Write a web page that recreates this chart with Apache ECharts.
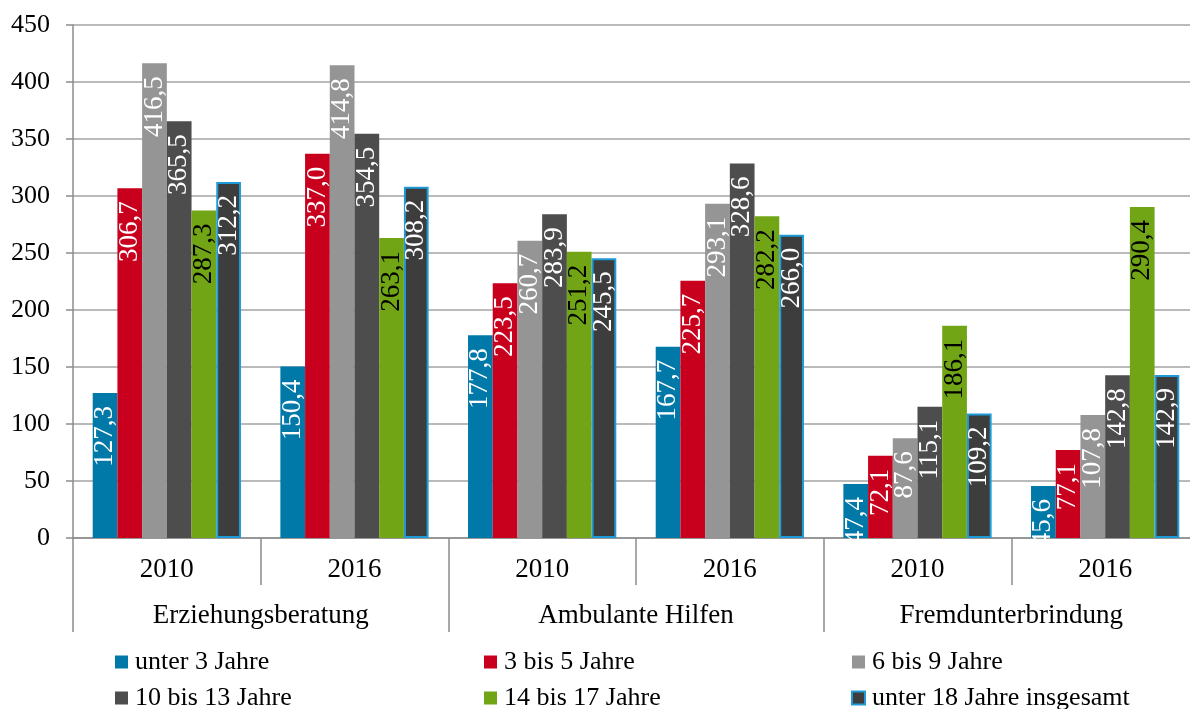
<!DOCTYPE html>
<html><head><meta charset="utf-8">
<script src="https://cdn.jsdelivr.net/npm/echarts@6/dist/echarts.min.js"></script>
<style>html,body{margin:0;padding:0;background:#fff;overflow:hidden;width:1190px;height:709px}#c{width:1199px;height:709px}</style>
</head><body><div id="c"></div>
<script>
const years = ['2010','2016','2010','2016','2010','2016'];
const groups = ['Erziehungsberatung','Ambulante Hilfen','Fremdunterbrindung'];
const seriesNames = ['unter 3 Jahre','3 bis 5 Jahre','6 bis 9 Jahre','10 bis 13 Jahre','14 bis 17 Jahre','unter 18 Jahre insgesamt'];
const unter3   = [127.3, 150.4, 177.8, 167.7, 47.4, 45.6];
const j3bis5   = [306.7, 337.0, 223.5, 225.7, 72.1, 77.1];
const j6bis9   = [416.5, 414.8, 260.7, 293.1, 87.6, 107.8];
const j10bis13 = [365.5, 354.5, 283.9, 328.6, 115.1, 142.8];
const j14bis17 = [287.3, 263.1, 251.2, 282.2, 186.1, 290.4];
const gesamt   = [312.2, 308.2, 245.5, 266.0, 109.2, 142.9];
const yTicks = {min:0, max:450, interval:50};

const values = [unter3, j3bis5, j6bis9, j10bis13, j14bis17, gesamt];
const colors = ['#0078a8','#c8001e','#959595','#4d4d4d','#72a516','#3d3d3d'];
const labelColors = ['#fff','#fff','#fff','#fff','#000','#fff'];
const FONT = '"Liberation Serif", "Times New Roman", serif';

const chart = echarts.init(document.getElementById('c'), null, {renderer:'canvas'});
const series = values.map((v,i)=>({
  name: seriesNames[i], type:'bar', data:v, xAxisIndex:0,
  barGap:'0%', barCategoryGap:'21%',
  itemStyle: i===5 ? {color:colors[i], borderColor:'#1e9bd7', borderWidth:2} : {color:colors[i]},
  label:{show:true, position:'insideTop', rotate:90, align:'right', verticalAlign:'middle',
    distance:13, color:labelColors[i], fontFamily:FONT, fontSize:27,
    formatter:p=>p.value.toFixed(1).replace('.',',')},
  emphasis:{disabled:true}, animation:false
}));
const legendCols = [[0,3],[1,4],[2,5]];
const legendLeft = [115,484,851];
chart.setOption({
  animation:false,
  grid:{left:73, right:0, top:25, bottom:171, containLabel:false},
  legend: legendCols.map((c,k)=>({
    data: c.map(i=>seriesNames[i]), orient:'vertical', left:legendLeft[k], top:649, height:100, padding:0,
    icon:'rect', itemWidth:13, itemHeight:13, itemGap:10,
    textStyle:{fontFamily:FONT, fontSize:26, color:'#000', lineHeight:26, padding:[0,0,0,2]}
  })),
  xAxis:[
    {type:'category', data:years, position:'bottom',
     axisLine:{lineStyle:{color:'#8c8c8c', width:1.5}},
     axisTick:{show:true, length:47, lineStyle:{color:'#8c8c8c', width:1.5}},
     axisLabel:{fontFamily:FONT, fontSize:27, color:'#000', margin:18}},
    {type:'category', data:groups, position:'bottom', offset:0,
     axisLine:{show:false},
     axisTick:{show:true, length:94, lineStyle:{color:'#8c8c8c', width:1.5}},
     axisLabel:{fontFamily:FONT, fontSize:27, color:'#000', margin:64}}
  ],
  yAxis:{type:'value', min:yTicks.min, max:yTicks.max, interval:yTicks.interval,
    axisLine:{show:true, lineStyle:{color:'#8c8c8c', width:1.5}},
    axisTick:{show:true, length:7, lineStyle:{color:'#8c8c8c', width:1.5}},
    splitLine:{lineStyle:{color:'#a3a3a3', width:1.5}},
    axisLabel:{fontFamily:FONT, fontSize:26, color:'#000', margin:23}},
  series
});
</script></body></html>
